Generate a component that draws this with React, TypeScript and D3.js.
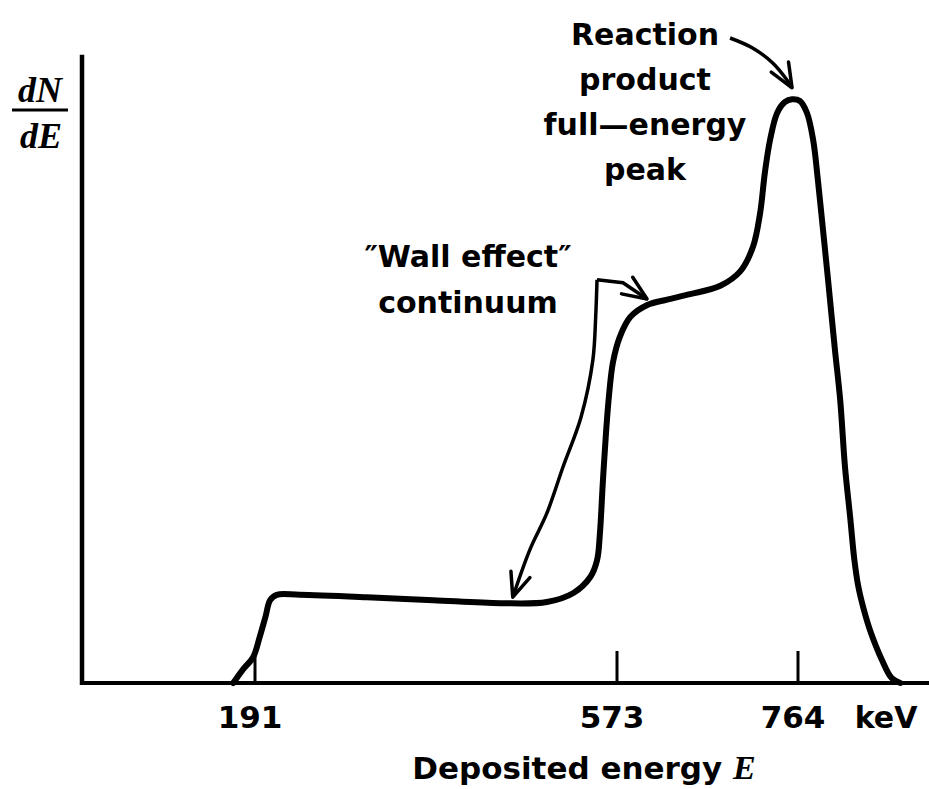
import React from 'react';
import * as d3 from 'd3';

// spectrum trace: energy (keV) and dN/dE (arbitrary units, peak ~100)
const energy = [168, 178, 189, 196, 202, 207, 214, 238, 309, 379, 450, 499, 527, 545, 552, 555, 558, 561.4, 564.6, 568.8, 576, 587, 605, 626, 650, 682, 703, 716.5, 724, 729, 734.5, 742, 750, 757.7, 766, 773.5, 780, 785, 790.4, 795.7, 803, 808.5, 813.6, 819, 823.5, 827.5, 833, 840, 852.7, 863, 872];
const counts = [0, 2.2, 4.3, 7.7, 11, 13.8, 14.7, 14.7, 14.3, 13.8, 13.3, 13.5, 15, 17.7, 20.5, 25, 33.3, 41.7, 48, 53.5, 57.7, 61, 63, 63.9, 64.8, 66.2, 68.6, 72.7, 78.3, 85, 90.5, 95, 96.8, 97.3, 97, 95, 90.5, 83.8, 75.5, 67.2, 55.5, 47.2, 36, 27.7, 20.5, 16.2, 12.5, 8.8, 3.8, 0.8, 0];

const tickValues = [191, 573, 764];
const tickLabels = ['191', '573', '764'];
const unitLabel = 'keV';

// annotation arrows, in data units [E, dN/dE]
const wallArrowDown: [number, number][] = [[551.9, 67.2], [550.5, 61], [547.5, 53.8], [535, 44.3], [516, 36], [499, 28.3], [481, 22.2], [463, 14.3]];
const wallArrowRight: [number, number][] = [[551.9, 67.2], [579.3, 66.7], [604.7, 64]];
const peakArrow: [number, number][] = [[692.3, 107.5], [716.5, 105.8], [737.6, 103.3], [752.4, 100.5], [757.7, 99.2]];

const peakText = ['Reaction', 'product', 'full\u2014energy', 'peak'];
const wallText = ['\u2033Wall effect\u2033', 'continuum'];

const width = 929;
const height = 789;
const axisLeft = 82;
const sans = 'DejaVu Sans, sans-serif';
const serif = 'Liberation Serif, Times New Roman, serif';

export default function App() {
  const x = d3.scaleLinear().domain([191, 764]).range([255, 798]);
  const y = d3.scaleLinear().domain([0, 100]).range([683, 83]);
  const y0 = y(0);

  const spectrum = d3.line<number>()
    .x((d, i) => x(energy[i]))
    .y(d => y(d))
    .curve(d3.curveCatmullRom.alpha(0.5))(counts) as string;

  const smooth = d3.line<[number, number]>().x(d => x(d[0])).y(d => y(d[1])).curve(d3.curveCatmullRom.alpha(0.5));
  const straight = d3.line<[number, number]>().x(d => x(d[0])).y(d => y(d[1]));

  return (
    <div style={{ position: 'absolute', left: 0, top: 0 }}>
      <svg width={width} height={height} style={{ display: 'block', background: '#fff' }}>
        <defs>
          <marker id="head" viewBox="-28 -13 30 26" refX={0} refY={0} markerWidth={30} markerHeight={26}
            markerUnits="userSpaceOnUse" orient="auto">
            <path d="M-24,-10 L0,0 L-24,10" fill="none" stroke="#000" strokeWidth={3.5} strokeLinecap="round" strokeLinejoin="round" />
          </marker>
        </defs>

        {/* axes */}
        <line x1={axisLeft} x2={axisLeft} y1={y(104.7)} y2={y0 + 2} stroke="#000" strokeWidth={4.5} />
        <line x1={axisLeft - 2} x2={width} y1={y0} y2={y0} stroke="#000" strokeWidth={4} />
        {tickValues.map((t, i) => (
          <g key={t}>
            <line x1={x(t)} x2={x(t)} y1={y0} y2={y0 - 32} stroke="#000" strokeWidth={3} />
            <text x={x(t) - 5} y={728} textAnchor="middle" fontFamily={sans} fontWeight="bold" fontSize={31}>{tickLabels[i]}</text>
          </g>
        ))}
        <text x={886} y={728} textAnchor="middle" fontFamily={sans} fontWeight="bold" fontSize={30}>{unitLabel}</text>
        <text x={584} y={779} textAnchor="middle" fontFamily={sans} fontWeight="bold" fontSize={31}>
          Deposited energy <tspan fontFamily={serif} fontStyle="italic" fontSize={34}>E</tspan>
        </text>

        {/* y label */}
        <text x={40} y={102} textAnchor="middle" fontFamily={serif} fontStyle="italic" fontWeight="bold" fontSize={36}>dN</text>
        <line x1={12} x2={68} y1={110} y2={110} stroke="#000" strokeWidth={3} />
        <text x={41} y={148} textAnchor="middle" fontFamily={serif} fontStyle="italic" fontWeight="bold" fontSize={36}>dE</text>

        {/* spectrum */}
        <path d={spectrum} fill="none" stroke="#000" strokeWidth={6} strokeLinejoin="round" strokeLinecap="round" />

        {/* annotations */}
        <path d={smooth(wallArrowDown) as string} fill="none" stroke="#000" strokeWidth={3.5} markerEnd="url(#head)" />
        <path d={straight(wallArrowRight) as string} fill="none" stroke="#000" strokeWidth={3.5} markerEnd="url(#head)" />
        <path d={smooth(peakArrow) as string} fill="none" stroke="#000" strokeWidth={3.5} markerEnd="url(#head)" />
        {peakText.map((t, i) => (
          <text key={t} x={645} y={45 + i * 45} textAnchor="middle" fontFamily={sans} fontWeight="bold" fontSize={30}>{t}</text>
        ))}
        {wallText.map((t, i) => (
          <text key={t} x={468} y={267 + i * 46} textAnchor="middle" fontFamily={sans} fontWeight="bold" fontSize={30}>{t}</text>
        ))}
      </svg>
    </div>
  );
}
